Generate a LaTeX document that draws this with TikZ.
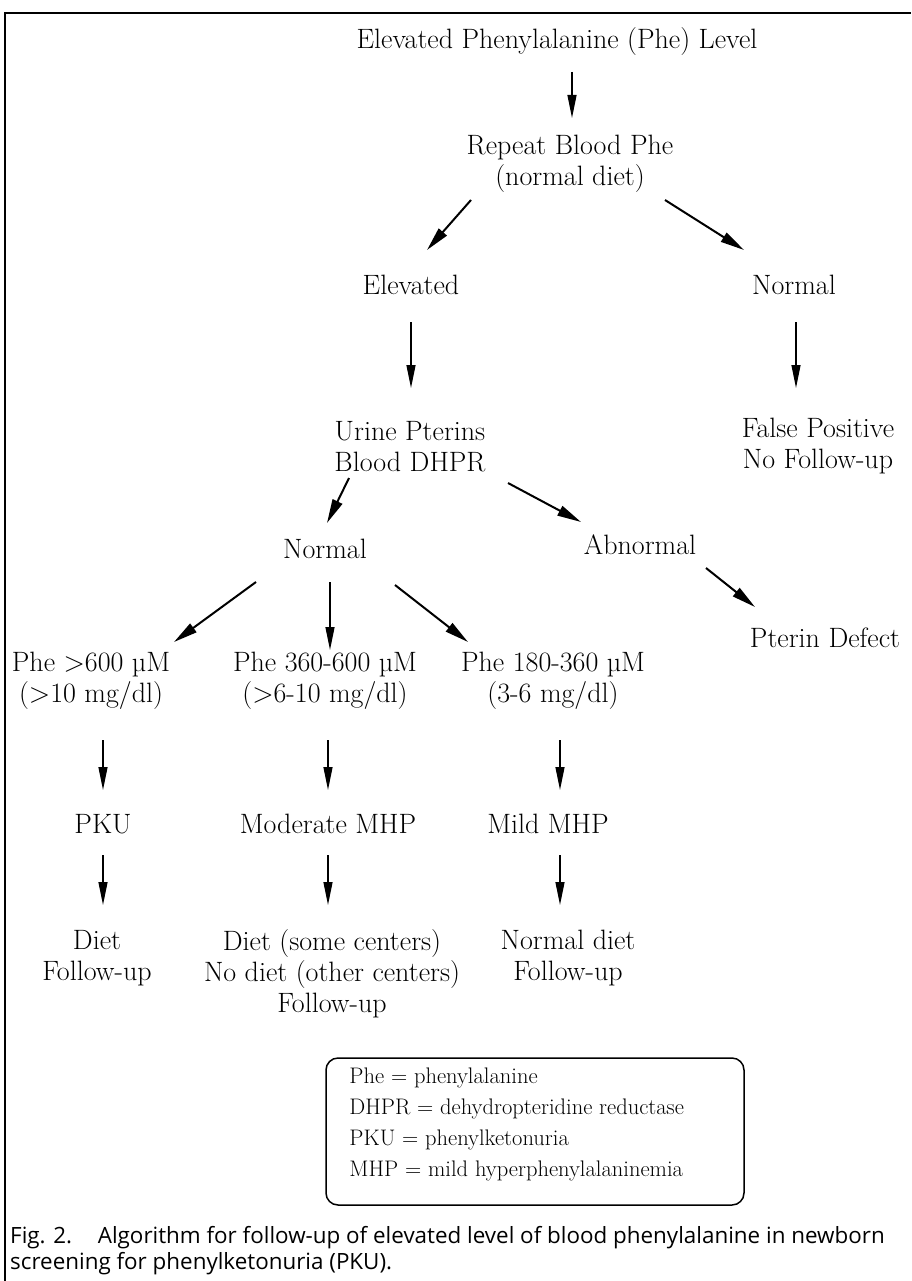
\documentclass[tikz,border=0pt]{standalone}
\usepackage{fontspec}
\newfontfamily\capfont{Open Sans}
\usetikzlibrary{arrows.meta,calc}
\begin{document}
\begin{tikzpicture}[x=1pt,y=-1pt,
  txt/.style={inner sep=0pt, align=center, font=\fontsize{28}{31}\selectfont},
  varr/.style={line width=1.3pt, -{Triangle[length=23pt,width=9pt]}},
  darr/.style={line width=2pt, -{Triangle[length=24pt,width=10.5pt]}},
  frame/.style={line width=2.4pt},
  legbox/.style={draw, line width=1.5pt, rounded corners=12pt, inner sep=0pt},
  legtxt/.style={inner sep=0pt, align=left, anchor=north west, font=\fontsize{22.5}{31}\selectfont},
  captxt/.style={inner sep=0pt, align=left, anchor=north west, font=\capfont\fontsize{22.4}{26.5}\selectfont}
]
\useasboundingbox (0,0) rectangle (911,1281);
% frame (top and left edges)
\coordinate (fA) at (5,1281);
\coordinate (fB) at (5,13);
\coordinate (fC) at (911,13);
\draw[frame] (fA) -- (fB) -- (fC);

% nodes
\node[txt] (title) at (557,42) {Elevated Phenylalanine (Phe) Level};
\node[txt] (rep) at (570,164) {Repeat Blood Phe\\(normal diet)};
\node[txt] (elev) at (411,285) {Elevated};
\node[txt] (normR) at (794,285) {Normal};
\node[txt] (urine) at (410,447) {Urine Pterins\\Blood DHPR};
\node[txt] (fp) at (818,446) {False Positive\\No Follow-up};
\node[txt] (normL) at (325,549) {Normal};
\node[txt] (abn) at (640,545) {Abnormal};
\node[txt] (pterin) at (825,638) {Pterin Defect};
\node[txt] (phe1) at (91,681) {Phe {>}600 µM\\({>}10 mg/dl)};
\node[txt] (phe2) at (325,681) {Phe 360-600 µM\\({>}6-10 mg/dl)};
\node[txt] (phe3) at (553,681) {Phe 180-360 µM\\(3-6 mg/dl)};
\node[txt] (pku) at (103,824) {PKU};
\node[txt] (mod) at (328,824) {Moderate MHP};
\node[txt] (mild) at (548,824) {Mild MHP};
\node[txt] (diet1) at (97,958) {Diet\\Follow-up};
\node[txt] (diet2) at (332,974) {Diet (some centers)\\No diet (other centers)\\Follow-up};
\node[txt] (diet3) at (568,958) {Normal diet\\Follow-up};

% legend
\node[legbox, minimum width=418pt, minimum height=147pt] (leg) at (535,1131.5) {};
\node[legtxt] (legt) at ($(leg.north west)+(24,10)$) {Phe = phenylalanine\\DHPR = dehydropteridine reductase\\PKU = phenylketonuria\\MHP = mild hyperphenylalaninemia};

% caption
\node[captxt] (cap) at (10,1226) {Fig. 2.\hspace{0.8em} Algorithm for follow-up of elevated level of blood phenylalanine in newborn\\screening for phenylketonuria (PKU).};

% connectors
\draw[varr] ($(title)+(15,30)$) -- ($(rep)+(2,-46)$);
\draw[darr] ($(rep)+(-99,36)$) -- ($(elev)+(16,-35)$);
\draw[darr] ($(rep)+(95,36)$) -- ($(normR)+(-50,-35)$);
\draw[varr] ($(elev)+(0,37)$) -- ($(urine)+(1,-59)$);
\draw[varr] ($(normR)+(2,37)$) -- ($(fp)+(-22,-58)$);
\draw[darr] ($(urine)+(-61,31)$) -- ($(normL)+(2,-26)$);
\draw[darr] ($(urine)+(98,36)$) -- ($(abn)+(-59,-23)$);
\draw[darr] ($(abn)+(66,23)$) -- ($(pterin)+(-70,-31)$);
\draw[darr] ($(normL)+(-69,33)$) -- ($(phe1)+(83,-39)$);
\draw[varr] ($(normL)+(5,33)$) -- ($(phe2)+(5,-31)$);
\draw[darr] ($(normL)+(70,36)$) -- ($(phe3)+(-85,-39)$);
\draw[varr] ($(phe1)+(12,59)$) -- ($(pku)+(0,-34)$);
\draw[varr] ($(phe2)+(3,59)$) -- ($(mod)+(0,-34)$);
\draw[varr] ($(phe3)+(7,59)$) -- ($(mild)+(12,-34)$);
\draw[varr] ($(pku)+(0,31)$) -- ($(diet1)+(6,-53)$);
\draw[varr] ($(mod)+(0,31)$) -- ($(diet2)+(-4,-69)$);
\draw[varr] ($(mild)+(12,31)$) -- ($(diet3)+(-8,-53)$);
\end{tikzpicture}
\end{document}
